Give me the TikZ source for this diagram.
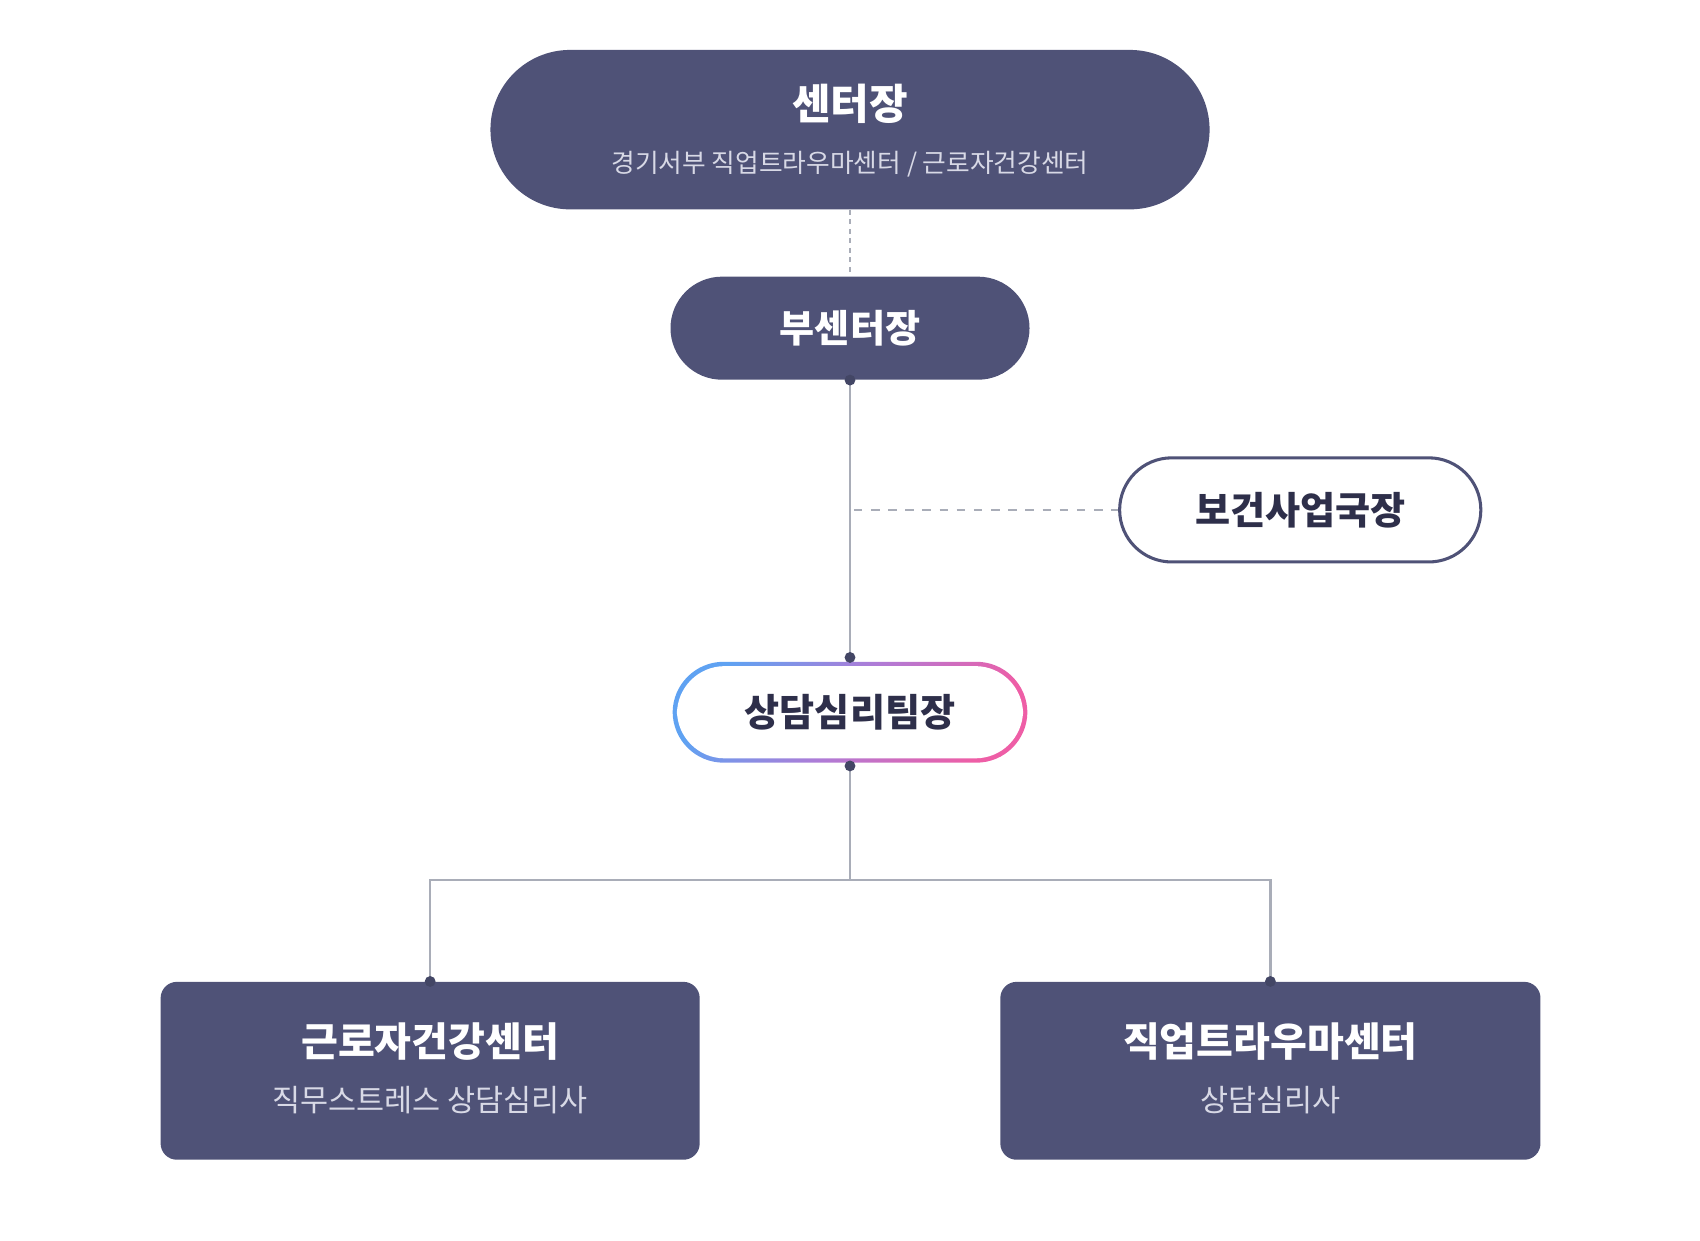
\documentclass[tikz,border=0pt]{standalone}
\usepackage{fontspec}
\setmainfont{Noto Sans CJK KR}
\usetikzlibrary{calc}
\definecolor{navy}{HTML}{4F5277}
\definecolor{dark}{HTML}{2E2F4A}
\definecolor{sub}{HTML}{D8D9E6}
\definecolor{ln}{HTML}{A9ADB8}
\definecolor{gb}{HTML}{5FA2F2}
\definecolor{gm}{HTML}{B07BD6}
\definecolor{gp}{HTML}{EE5EA6}
\begin{document}
\begin{tikzpicture}[x=0.02cm,y=-0.02cm,
  box/.style={inner sep=0pt, align=center, text=white, fill=navy},
  conn/.style={ln, line width=1.3pt},
  dotc/.style={circle, fill=navy!85!black, inner sep=0pt, minimum size=0.2cm},
  tit/.style={font=\bfseries\fontsize{21}{24}\selectfont}]
\useasboundingbox (0,0) rectangle (1567,1143);
% top
\node[box, minimum width=13.26cm, minimum height=2.94cm, rounded corners=1.47cm] (top) at (783.5,119.5) {};
\node[text=white, font=\bfseries\fontsize{22}{24}\selectfont] (topt) at (783.5,96) {센터장};
\node[text=sub, font=\fontsize{13.5}{16}\selectfont] (tops) at (783.5,151) {경기서부 직업트라우마센터 / 근로자건강센터};
% vice
\node[box, minimum width=6.62cm, minimum height=1.9cm, rounded corners=0.95cm, font=\bfseries\fontsize{20}{24}\selectfont] (vice) at (783.5,302.5) {부센터장};
\draw[ln, line width=1.3pt, dash pattern=on 2.5pt off 2.5pt] (top.south) -- (vice.north);
% health bureau
\node[draw=navy, line width=1.6pt, fill=white, text=dark, minimum width=6.66cm, minimum height=1.92cm, rounded corners=0.96cm, font=\bfseries\fontsize{20}{24}\selectfont] (hb) at (1198.5,470) {보건사업국장};
% team leader gradient
\coordinate (tl) at (783.5,656.5);
\shade[left color=gb, right color=gp, middle color=gm, shading angle=60, rounded corners=0.94cm] (620,610) rectangle (947,703);
\fill[white, rounded corners=0.88cm] (624,614) rectangle (943,699);
\node[text=dark, font=\bfseries\fontsize{20}{24}\selectfont] (team) at (tl) {상담심리팀장};
\coordinate (teamN) at (783.5,606);
\coordinate (teamS) at (783.5,706);
\draw[conn] (vice.south) -- (teamN);
\coordinate (mid) at (783.5,470);
\draw[ln, line width=1.3pt, dash pattern=on 4.5pt off 4.5pt] (787,470) -- (hb.west);
% bottom boxes
\node[box, minimum width=9.94cm, minimum height=3.28cm, rounded corners=0.3cm] (left) at (396.5,987) {};
\node[box, minimum width=9.96cm, minimum height=3.28cm, rounded corners=0.3cm] (right) at (1171,987) {};
\node[text=white, tit] (lt) at (396.5,960) {근로자건강센터};
\node[text=sub, font=\fontsize{16}{18}\selectfont] (ls) at (396.5,1014) {직무스트레스 상담심리사};
\node[text=white, tit] (rt) at (1171,960) {직업트라우마센터};
\node[text=sub, font=\fontsize{16}{18}\selectfont] (rs) at (1171,1014) {상담심리사};
\coordinate (j) at (783.5,811);
\draw[conn] (teamS) -- (j);
\draw[conn] (left.north) -- (396.5,811) -- (1171,811) -- (right.north);
\node[dotc] at (vice.south) {};
\node[dotc] at (teamN) {};
\node[dotc] at (teamS) {};
\node[dotc] at (left.north) {};
\node[dotc] at (right.north) {};
\end{tikzpicture}
\end{document}
